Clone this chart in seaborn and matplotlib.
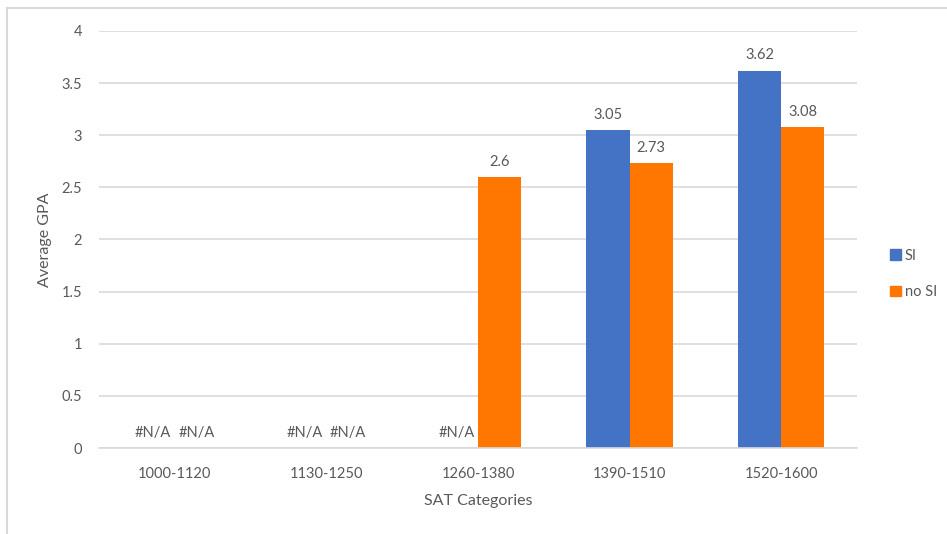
import matplotlib.pyplot as plt
import matplotlib.patches as mpatches
import numpy as np
import pandas as pd
import seaborn as sns

sns.set_theme(style="white")
plt.rcParams['font.family'] = ['Lato', 'DejaVu Sans']

# SAT score bins
categories = ['1000-1120', '1130-1250', '1260-1380', '1390-1510', '1520-1600']
# average GPA, NaN where Excel shows #N/A
si_gpa = [np.nan, np.nan, np.nan, 3.05, 3.62]
no_si_gpa = [np.nan, np.nan, 2.6, 2.73, 3.08]
series = ['SI', 'no SI']
colors = ['#4472C4', '#FF7700']
y_ticks = [0, 0.5, 1, 1.5, 2, 2.5, 3, 3.5, 4]

df = pd.DataFrame({
    'SAT': categories * 2,
    'group': [series[0]] * len(categories) + [series[1]] * len(categories),
    'gpa': si_gpa + no_si_gpa,
})

text_col = '#595959'
fig = plt.figure(figsize=(9.47, 5.34), dpi=100)
ax = fig.add_axes([0.1045, 0.161, 0.8005, 0.781])

sns.barplot(data=df.dropna(), x='SAT', y='gpa', hue='group',
            order=categories, hue_order=series, palette=colors,
            saturation=1, width=0.57, ax=ax, legend=False, linewidth=0)

ax.set_xlim(-0.5, len(categories) - 0.5)
ax.set_ylim(0, 4)
ax.set_yticks(y_ticks)
ax.set_yticklabels(['%g' % t for t in y_ticks])
ax.yaxis.grid(True, color='#D9D9D9', linewidth=1.2)
ax.set_axisbelow(True)
for s in ['top', 'right', 'left']:
    ax.spines[s].set_visible(False)
ax.spines['bottom'].set_color('#D9D9D9')
ax.spines['bottom'].set_linewidth(1.2)
ax.tick_params(axis='both', length=0, labelsize=10.5, colors=text_col)
ax.tick_params(axis='y', pad=12)
ax.tick_params(axis='x', pad=14)

ax.set_xlabel('SAT Categories', fontsize=11.5, color=text_col, labelpad=9)
ax.set_ylabel('Average GPA', fontsize=11.5, color=text_col, labelpad=7)

# data labels, #N/A for the empty ones
bar_w = 0.57 / 2
for j, vals in enumerate([si_gpa, no_si_gpa]):
    for i, v in enumerate(vals):
        x = i + (j - 0.5) * bar_w
        if np.isnan(v):
            label, y = '#N/A', 0
        else:
            label, y = '%g' % v, v
        ax.annotate(label, (x, y), textcoords='offset points',
                    xytext=(0, 6), ha='center', va='bottom',
                    fontsize=10.5, color=text_col)

handles = [mpatches.Patch(color=c, label=s) for c, s in zip(colors, series)]
fig.legend(handles=handles, loc='center left',
           bbox_to_anchor=(0.934, 0.487), frameon=False, fontsize=10.5,
           handlelength=0.75, handleheight=0.75, handletextpad=0.25,
           labelspacing=1.55, labelcolor=text_col, borderaxespad=0)

# chart frame (cut off at the right and bottom)
fig.patches.append(mpatches.Rectangle((7 / 947, -0.1), 1.2, 1.085,
                                      transform=fig.transFigure,
                                      fill=False, edgecolor='#D9D9D9',
                                      linewidth=1.5))

plt.savefig('out.png', dpi=100)
